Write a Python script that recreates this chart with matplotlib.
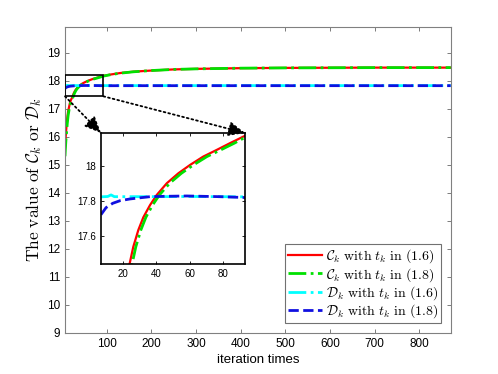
import matplotlib
matplotlib.use('Agg')
import matplotlib.pyplot as plt
from matplotlib.patches import Rectangle, ConnectionPatch

plt.rcParams['font.family'] = ['Liberation Sans', 'DejaVu Sans']
plt.rcParams['mathtext.fontset'] = 'cm'

# values
x_C16 = [7, 8, 9, 10, 12, 14, 16, 18, 20, 23.9, 26.3, 29.3, 32.3, 36.3, 40.3, 46.3,
         53.2, 60.2, 68.1, 76.1, 84.1, 93, 110, 130, 160, 200, 250, 300, 400, 500,
         600, 700, 870]
C_16 = [15.6, 15.85, 16.1, 16.3, 16.65, 16.9, 17.05, 17.2, 17.3, 17.43, 17.536, 17.632,
        17.705, 17.775, 17.833, 17.90, 17.957, 18.005, 18.053, 18.091, 18.13, 18.172,
        18.22, 18.27, 18.32, 18.36, 18.40, 18.42, 18.445, 18.455, 18.46, 18.465, 18.465]
x_C18 = [7, 8, 9, 10, 12, 14, 16, 18, 20, 25.4, 27.8, 30.8, 33.8, 37.8, 41.9, 48,
         55, 62.2, 70.3, 78.5, 86.7, 93, 110, 130, 160, 200, 250, 300, 400, 500,
         600, 700, 870]
C_18 = [15.3, 15.6, 15.85, 16.05, 16.45, 16.75, 16.95, 17.1, 17.22, 17.43, 17.536, 17.632,
        17.705, 17.775, 17.833, 17.90, 17.957, 18.005, 18.053, 18.091, 18.13, 18.163,
        18.215, 18.265, 18.315, 18.36, 18.40, 18.42, 18.445, 18.455, 18.46, 18.465, 18.465]

x_D16 = [7, 11, 13, 15, 20, 40, 60, 93, 200, 870]
D_16 = [17.822, 17.824, 17.833, 17.823, 17.823, 17.823, 17.824, 17.822, 17.822, 17.822]
x_D18 = [7, 10, 14, 18.4, 24.4, 36.3, 45, 58.2, 78, 93, 150, 870]
D_18 = [17.72, 17.76, 17.785, 17.80, 17.81, 17.823, 17.825, 17.827, 17.823, 17.818,
        17.82, 17.82]

labels = [r'$\mathcal{C}_k\ \mathrm{with}\ t_k\ \mathrm{in\ (1.6)}$',
          r'$\mathcal{C}_k\ \mathrm{with}\ t_k\ \mathrm{in\ (1.8)}$',
          r'$\mathcal{D}_k\ \mathrm{with}\ t_k\ \mathrm{in\ (1.6)}$',
          r'$\mathcal{D}_k\ \mathrm{with}\ t_k\ \mathrm{in\ (1.8)}$']
xticks = [100, 200, 300, 400, 500, 600, 700, 800]
yticks = [9, 10, 11, 12, 13, 14, 15, 16, 17, 18, 19]
in_xticks = [20, 40, 60, 80]
in_yticks = [17.6, 17.8, 18.0]
in_ylabels = ['17.6', '17.8', '18']


def draw_lines(ax):
    ax.plot(x_C16, C_16, color='red', lw=1.6, ls='-', label=labels[0])
    ax.plot(x_C18, C_18, color='#00e000', lw=2, ls='-.', label=labels[1])
    ax.plot(x_D16, D_16, color='cyan', lw=2, ls='-.', label=labels[2])
    ax.plot(x_D18, D_18, color='#1010e0', lw=2, ls='--', label=labels[3])


fig = plt.figure(figsize=(4.98, 3.74), dpi=100)
ax = fig.add_axes([0.1305, 0.1104, 0.7745, 0.8163])
draw_lines(ax)
ax.set_xlim(7, 870)
ax.set_ylim(9, 19.9)
ax.set_xticks(xticks)
ax.set_yticks(yticks)
ax.tick_params(direction='in', top=True, right=True, labelsize=8.5, length=3,
               color='0.4', width=0.6)
for s in ax.spines.values():
    s.set_color('0.5')
    s.set_linewidth(0.8)
ax.set_xlabel('iteration times', fontsize=9.5, labelpad=3)
ax.set_ylabel(r'$\mathrm{The\ value\ of}\ \mathcal{C}_k\ \mathrm{or}\ \mathcal{D}_k$',
              fontsize=12.5, labelpad=2)

leg = ax.legend(loc='lower right', bbox_to_anchor=(0.974, 0.031), fontsize=10,
                frameon=True, fancybox=False, handlelength=2.5, handletextpad=0.25,
                borderpad=0.2, labelspacing=0.05, borderaxespad=0)
leg.get_frame().set_edgecolor('0.3')
leg.get_frame().set_linewidth(0.8)

ax.add_patch(Rectangle((7, 17.44), 86, 0.75, fill=False, ec='black', lw=1.2, zorder=5))

ins = fig.add_axes([0.2028, 0.2941, 0.2892, 0.3503])
draw_lines(ins)
ins.set_xlim(7, 93)
ins.set_ylim(17.437, 18.188)
ins.set_xticks(in_xticks)
ins.set_yticks(in_yticks)
ins.set_yticklabels(in_ylabels)
ins.tick_params(direction='in', top=True, right=True, labelsize=7, length=2.5, width=0.6)
for s in ins.spines.values():
    s.set_color('black')
    s.set_linewidth(1.2)

for xa, xb in [((7, 17.44), (0, 1)), ((93, 17.44), (1, 1))]:
    con = ConnectionPatch(xyA=xa, coordsA=ax.transData, xyB=xb, coordsB=ins.transAxes,
                          arrowstyle='-|>,head_length=0.9,head_width=0.4', ls=':',
                          lw=1.3, color='black', mutation_scale=11, zorder=6)
    fig.add_artist(con)

fig.savefig('out.png', dpi=100)
